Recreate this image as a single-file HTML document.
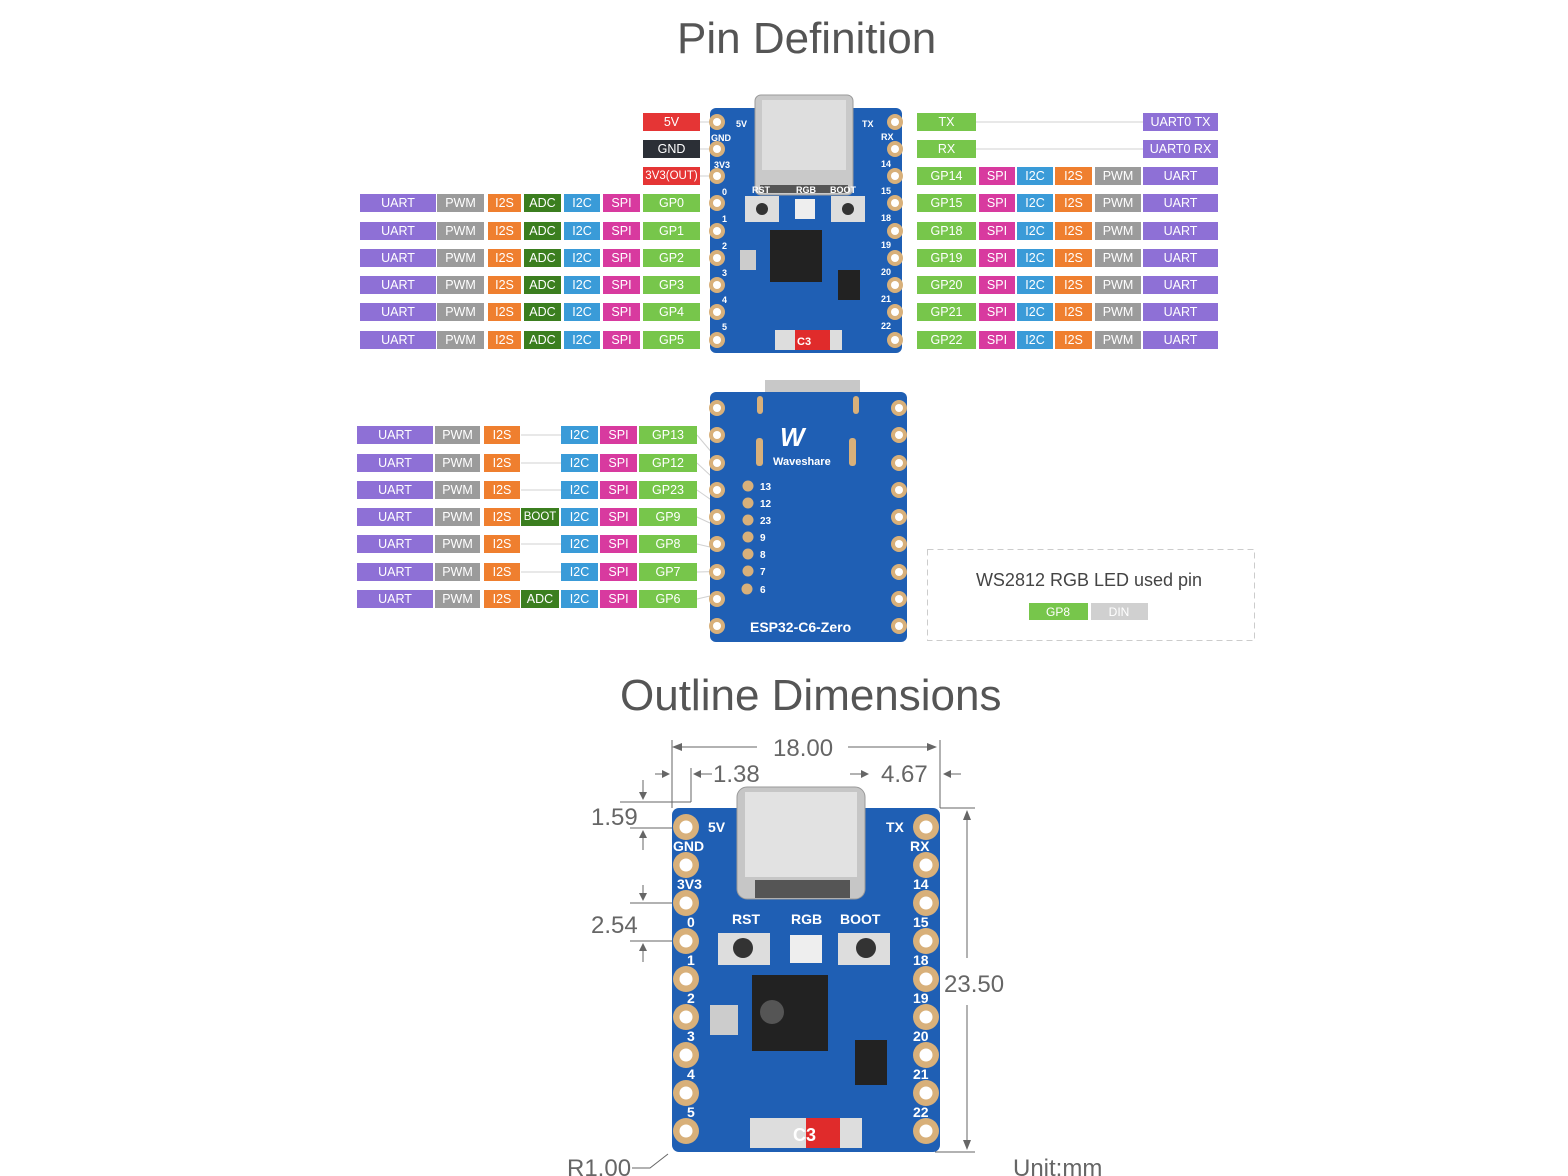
<!DOCTYPE html>
<html><head><meta charset="utf-8"><style>
html,body{margin:0;padding:0;background:#fff}
body{width:1568px;height:1176px;position:relative;overflow:hidden;font-family:"Liberation Sans",sans-serif}
svg{position:absolute;left:0;top:0}
.r{position:absolute;left:0;width:1568px;height:18px}
.r span{position:absolute;top:0;height:18px;line-height:18px;color:#fff;text-align:center;font-size:12.5px}
.u{background:#8e70d6}.p{background:#9b9b9b}.s{background:#ef7f2f}.a{background:#3b7e1f}.c{background:#3a9bd8}.i{background:#d83a9f}.g{background:#77c64b}
.L1{left:360px;width:76px}.L2{left:437px;width:47px}.L3{left:488px;width:33px}.L4{left:524px;width:37px}.L5{left:564px;width:36px}.L6{left:603px;width:37px}.L7{left:643px;width:57px}
.R1{left:917px;width:59px}.R2{left:979px;width:36px}.R3{left:1017px;width:36px}.R4{left:1055px;width:37px}.R5{left:1095px;width:46px}.R6{left:1143px;width:75px}
.B1{left:357px;width:76px}.B2{left:435px;width:45px}.B3{left:484px;width:36px}.B4{left:521px;width:38px}.B5{left:561px;width:37px}.B6{left:600px;width:37px}.B7{left:639px;width:58px}
.t{position:absolute;color:#555;font-size:44px;white-space:nowrap}
</style></head><body>
<svg width="1568" height="1176" viewBox="0 0 1568 1176">
<g stroke="#d0d0d0" stroke-width="1">
<line x1="976" y1="122" x2="1143" y2="122"/><line x1="976" y1="149" x2="1143" y2="149"/>
<line x1="700" y1="122" x2="712" y2="122"/><line x1="700" y1="149" x2="712" y2="149"/><line x1="700" y1="176" x2="712" y2="176"/>
<line x1="697" y1="435" x2="740" y2="486"/><line x1="697" y1="463" x2="740" y2="503"/><line x1="697" y1="490" x2="740" y2="520"/><line x1="697" y1="517" x2="740" y2="537"/><line x1="697" y1="544" x2="740" y2="554"/><line x1="697" y1="572" x2="740" y2="571"/><line x1="697" y1="599" x2="740" y2="589"/>
<line x1="521" y1="435" x2="561" y2="435"/><line x1="521" y1="463" x2="561" y2="463"/><line x1="521" y1="490" x2="561" y2="490"/><line x1="521" y1="544" x2="561" y2="544"/><line x1="521" y1="572" x2="561" y2="572"/>
</g>
<!-- Board 1 -->
<rect x="710" y="108" width="192" height="245" rx="6" fill="#1f5fb4"/>
<rect x="755" y="95" width="98" height="100" rx="6" fill="#c9c9c9" stroke="#9a9a9a"/>
<rect x="762" y="100" width="84" height="70" fill="#dedede"/>
<rect x="760" y="185" width="88" height="8" fill="#555"/>
<g fill="#d8b07a"><circle cx="717" cy="122" r="8"/><circle cx="717" cy="149" r="8"/><circle cx="717" cy="176" r="8"/><circle cx="717" cy="203" r="8"/><circle cx="717" cy="231" r="8"/><circle cx="717" cy="258" r="8"/><circle cx="717" cy="285" r="8"/><circle cx="717" cy="312" r="8"/><circle cx="717" cy="340" r="8"/>
<circle cx="895" cy="122" r="8"/><circle cx="895" cy="149" r="8"/><circle cx="895" cy="176" r="8"/><circle cx="895" cy="203" r="8"/><circle cx="895" cy="231" r="8"/><circle cx="895" cy="258" r="8"/><circle cx="895" cy="285" r="8"/><circle cx="895" cy="312" r="8"/><circle cx="895" cy="340" r="8"/></g>
<g fill="#fff"><circle cx="717" cy="122" r="4"/><circle cx="717" cy="149" r="4"/><circle cx="717" cy="176" r="4"/><circle cx="717" cy="203" r="4"/><circle cx="717" cy="231" r="4"/><circle cx="717" cy="258" r="4"/><circle cx="717" cy="285" r="4"/><circle cx="717" cy="312" r="4"/><circle cx="717" cy="340" r="4"/>
<circle cx="895" cy="122" r="4"/><circle cx="895" cy="149" r="4"/><circle cx="895" cy="176" r="4"/><circle cx="895" cy="203" r="4"/><circle cx="895" cy="231" r="4"/><circle cx="895" cy="258" r="4"/><circle cx="895" cy="285" r="4"/><circle cx="895" cy="312" r="4"/><circle cx="895" cy="340" r="4"/></g>
<rect x="745" y="196" width="34" height="26" fill="#ddd"/><circle cx="762" cy="209" r="6" fill="#333"/>
<rect x="831" y="196" width="34" height="26" fill="#ddd"/><circle cx="848" cy="209" r="6" fill="#333"/>
<rect x="795" y="199" width="20" height="20" fill="#eee"/>
<rect x="770" y="230" width="52" height="52" fill="#222"/>
<rect x="740" y="250" width="16" height="20" fill="#ccc"/>
<rect x="838" y="270" width="22" height="30" fill="#222"/>
<rect x="795" y="330" width="35" height="20" fill="#e02b2b"/><rect x="775" y="330" width="20" height="20" fill="#ddd"/><rect x="830" y="330" width="12" height="20" fill="#ddd"/>
<g fill="#fff" font-size="9" font-weight="bold"><text x="736" y="127">5V</text><text x="711" y="141">GND</text><text x="714" y="168">3V3</text><text x="722" y="195">0</text><text x="722" y="222">1</text><text x="722" y="249">2</text><text x="722" y="276">3</text><text x="722" y="303">4</text><text x="722" y="330">5</text>
<text x="862" y="127">TX</text><text x="881" y="140">RX</text><text x="881" y="167">14</text><text x="881" y="194">15</text><text x="881" y="221">18</text><text x="881" y="248">19</text><text x="881" y="275">20</text><text x="881" y="302">21</text><text x="881" y="329">22</text>
<text x="752" y="193">RST</text><text x="796" y="193">RGB</text><text x="830" y="193">BOOT</text><text x="797" y="345" font-size="11">C3</text></g>
<!-- Board 2 -->
<rect x="765" y="380" width="95" height="12" fill="#c8c8c8"/>
<rect x="710" y="392" width="197" height="250" rx="6" fill="#1f5fb4"/>
<g fill="#d8b07a"><circle cx="717" cy="408" r="8"/><circle cx="717" cy="435" r="8"/><circle cx="717" cy="463" r="8"/><circle cx="717" cy="490" r="8"/><circle cx="717" cy="517" r="8"/><circle cx="717" cy="544" r="8"/><circle cx="717" cy="572" r="8"/><circle cx="717" cy="599" r="8"/><circle cx="717" cy="626" r="8"/>
<circle cx="899" cy="408" r="8"/><circle cx="899" cy="435" r="8"/><circle cx="899" cy="463" r="8"/><circle cx="899" cy="490" r="8"/><circle cx="899" cy="517" r="8"/><circle cx="899" cy="544" r="8"/><circle cx="899" cy="572" r="8"/><circle cx="899" cy="599" r="8"/><circle cx="899" cy="626" r="8"/>
<circle cx="748" cy="486" r="5.5"/><circle cx="748" cy="503" r="5.5"/><circle cx="748" cy="520" r="5.5"/><circle cx="748" cy="537" r="5.5"/><circle cx="748" cy="554" r="5.5"/><circle cx="748" cy="571" r="5.5"/><circle cx="747" cy="589" r="5.5"/>
<rect x="756" y="438" width="7" height="28" rx="3"/><rect x="849" y="438" width="7" height="28" rx="3"/><rect x="757" y="396" width="6" height="18" rx="3"/><rect x="853" y="396" width="6" height="18" rx="3"/></g>
<g fill="#fff"><circle cx="717" cy="408" r="4"/><circle cx="717" cy="435" r="4"/><circle cx="717" cy="463" r="4"/><circle cx="717" cy="490" r="4"/><circle cx="717" cy="517" r="4"/><circle cx="717" cy="544" r="4"/><circle cx="717" cy="572" r="4"/><circle cx="717" cy="599" r="4"/><circle cx="717" cy="626" r="4"/>
<circle cx="899" cy="408" r="4"/><circle cx="899" cy="435" r="4"/><circle cx="899" cy="463" r="4"/><circle cx="899" cy="490" r="4"/><circle cx="899" cy="517" r="4"/><circle cx="899" cy="544" r="4"/><circle cx="899" cy="572" r="4"/><circle cx="899" cy="599" r="4"/><circle cx="899" cy="626" r="4"/></g>
<g fill="#fff" font-weight="bold"><text x="780" y="446" font-size="26" font-style="italic">W</text><text x="773" y="465" font-size="11">Waveshare</text>
<g font-size="10"><text x="760" y="490">13</text><text x="760" y="507">12</text><text x="760" y="524">23</text><text x="760" y="541">9</text><text x="760" y="558">8</text><text x="760" y="575">7</text><text x="760" y="593">6</text></g>
<text x="750" y="632" font-size="14">ESP32-C6-Zero</text></g>
<!-- dashed box -->
<rect x="927.5" y="549.5" width="327" height="91" fill="none" stroke="#ccc" stroke-dasharray="6,4"/>
<text x="1089" y="586" font-size="18" fill="#444" text-anchor="middle">WS2812 RGB LED used pin</text>
<rect x="1029" y="603" width="59" height="17" fill="#77c64b"/><rect x="1091" y="603" width="57" height="17" fill="#d0d0d0"/>
<text x="1058" y="616" font-size="12" fill="#fff" text-anchor="middle">GP8</text><text x="1119" y="616" font-size="12" fill="#fff" text-anchor="middle">DIN</text>
<!-- Board 3 -->
<rect x="672" y="808" width="268" height="344" rx="7" fill="#1f5fb4"/>
<rect x="737" y="787" width="128" height="112" rx="10" fill="#c6c6c6" stroke="#999"/>
<rect x="745" y="792" width="112" height="85" fill="#e2e2e2"/>
<rect x="755" y="880" width="95" height="18" fill="#555"/>
<g fill="#d8b07a"><circle cx="686" cy="827" r="13"/><circle cx="686" cy="865" r="13"/><circle cx="686" cy="903" r="13"/><circle cx="686" cy="941" r="13"/><circle cx="686" cy="979" r="13"/><circle cx="686" cy="1017" r="13"/><circle cx="686" cy="1055" r="13"/><circle cx="686" cy="1093" r="13"/><circle cx="686" cy="1131" r="13"/>
<circle cx="926" cy="827" r="13"/><circle cx="926" cy="865" r="13"/><circle cx="926" cy="903" r="13"/><circle cx="926" cy="941" r="13"/><circle cx="926" cy="979" r="13"/><circle cx="926" cy="1017" r="13"/><circle cx="926" cy="1055" r="13"/><circle cx="926" cy="1093" r="13"/><circle cx="926" cy="1131" r="13"/></g>
<g fill="#fff"><circle cx="686" cy="827" r="6.5"/><circle cx="686" cy="865" r="6.5"/><circle cx="686" cy="903" r="6.5"/><circle cx="686" cy="941" r="6.5"/><circle cx="686" cy="979" r="6.5"/><circle cx="686" cy="1017" r="6.5"/><circle cx="686" cy="1055" r="6.5"/><circle cx="686" cy="1093" r="6.5"/><circle cx="686" cy="1131" r="6.5"/>
<circle cx="926" cy="827" r="6.5"/><circle cx="926" cy="865" r="6.5"/><circle cx="926" cy="903" r="6.5"/><circle cx="926" cy="941" r="6.5"/><circle cx="926" cy="979" r="6.5"/><circle cx="926" cy="1017" r="6.5"/><circle cx="926" cy="1055" r="6.5"/><circle cx="926" cy="1093" r="6.5"/><circle cx="926" cy="1131" r="6.5"/></g>
<rect x="718" y="933" width="52" height="32" fill="#ddd"/><circle cx="743" cy="948" r="10" fill="#333"/>
<rect x="838" y="933" width="52" height="32" fill="#ddd"/><circle cx="866" cy="948" r="10" fill="#333"/>
<rect x="790" y="935" width="32" height="28" fill="#eee"/>
<rect x="752" y="975" width="76" height="76" fill="#222"/><circle cx="772" cy="1012" r="12" fill="#555"/>
<rect x="710" y="1005" width="28" height="30" fill="#ccc"/>
<rect x="855" y="1040" width="32" height="45" fill="#222"/>
<rect x="806" y="1118" width="50" height="30" fill="#e02b2b"/><rect x="750" y="1118" width="56" height="30" fill="#ddd"/><rect x="840" y="1118" width="22" height="30" fill="#ddd"/>
<g fill="#fff" font-size="14" font-weight="bold"><text x="708" y="832">5V</text><text x="673" y="851">GND</text><text x="677" y="889">3V3</text><text x="687" y="927">0</text><text x="687" y="965">1</text><text x="687" y="1003">2</text><text x="687" y="1041">3</text><text x="687" y="1079">4</text><text x="687" y="1117">5</text>
<text x="886" y="832">TX</text><text x="910" y="851">RX</text><text x="913" y="889">14</text><text x="913" y="927">15</text><text x="913" y="965">18</text><text x="913" y="1003">19</text><text x="913" y="1041">20</text><text x="913" y="1079">21</text><text x="913" y="1117">22</text>
<text x="732" y="924">RST</text><text x="791" y="924">RGB</text><text x="840" y="924">BOOT</text><text x="793" y="1141" font-size="18">C3</text></g>
<!-- dimensions -->
<g stroke="#666" stroke-width="1" fill="none">
<line x1="672" y1="740" x2="672" y2="808"/><line x1="940" y1="740" x2="940" y2="808"/><line x1="691" y1="768" x2="691" y2="802"/>
<line x1="674" y1="747" x2="757" y2="747"/><line x1="848" y1="747" x2="935" y2="747"/>
<line x1="655" y1="774" x2="668" y2="774"/><line x1="695" y1="774" x2="712" y2="774"/><line x1="850" y1="774" x2="867" y2="774"/><line x1="946" y1="774" x2="961" y2="774"/>
<line x1="620" y1="802" x2="691" y2="802"/><line x1="630" y1="828" x2="672" y2="828"/><line x1="630" y1="903" x2="672" y2="903"/><line x1="630" y1="941" x2="672" y2="941"/>
<line x1="643" y1="780" x2="643" y2="798"/><line x1="643" y1="832" x2="643" y2="850"/><line x1="643" y1="885" x2="643" y2="899"/><line x1="643" y1="945" x2="643" y2="962"/>
<line x1="940" y1="808" x2="975" y2="808"/><line x1="935" y1="1152" x2="975" y2="1152"/><line x1="967" y1="812" x2="967" y2="958"/><line x1="967" y1="1005" x2="967" y2="1148"/>
<polyline points="632,1168 650,1168 668,1154"/></g>
<g fill="#666"><path d="M672,747 l10,-4 v8z"/><path d="M937,747 l-10,-4 v8z"/><path d="M670,774 l-8,-4 v8z"/><path d="M693,774 l8,-4 v8z"/><path d="M869,774 l-8,-4 v8z"/><path d="M943,774 l8,-4 v8z"/>
<path d="M643,800 l-4,-8 h8z"/><path d="M643,830 l-4,8 h8z"/><path d="M643,901 l-4,-8 h8z"/><path d="M643,943 l-4,8 h8z"/><path d="M967,810 l-4,10 h8z"/><path d="M967,1150 l-4,-10 h8z"/></g>
<g fill="#666" font-size="24"><text x="773" y="756">18.00</text><text x="713" y="782">1.38</text><text x="881" y="782">4.67</text><text x="591" y="825">1.59</text><text x="591" y="933">2.54</text><text x="944" y="992">23.50</text><text x="567" y="1176">R1.00</text><text x="1013" y="1176">Unit:mm</text></g>
</svg>
<div class="t" style="left:677px;top:14px">Pin Definition</div>
<div class="t" style="left:620px;top:671px">Outline Dimensions</div>

<div class="r" style="top:113px"><span class="L7" style="background:#e53535">5V</span><span class="R1 g">TX</span><span class="R6 u">UART0 TX</span></div>
<div class="r" style="top:140px"><span class="L7" style="background:#2b2f36">GND</span><span class="R1 g">RX</span><span class="R6 u">UART0 RX</span></div>
<div class="r" style="top:167px"><span class="L7" style="background:#e53535;font-size:11.5px">3V3(OUT)</span><span class="R1 g">GP14</span><span class="R2 i">SPI</span><span class="R3 c">I2C</span><span class="R4 s">I2S</span><span class="R5 p">PWM</span><span class="R6 u">UART</span></div>
<div class="r" style="top:194px"><span class="L1 u">UART</span><span class="L2 p">PWM</span><span class="L3 s">I2S</span><span class="L4 a">ADC</span><span class="L5 c">I2C</span><span class="L6 i">SPI</span><span class="L7 g">GP0</span><span class="R1 g">GP15</span><span class="R2 i">SPI</span><span class="R3 c">I2C</span><span class="R4 s">I2S</span><span class="R5 p">PWM</span><span class="R6 u">UART</span></div>
<div class="r" style="top:222px"><span class="L1 u">UART</span><span class="L2 p">PWM</span><span class="L3 s">I2S</span><span class="L4 a">ADC</span><span class="L5 c">I2C</span><span class="L6 i">SPI</span><span class="L7 g">GP1</span><span class="R1 g">GP18</span><span class="R2 i">SPI</span><span class="R3 c">I2C</span><span class="R4 s">I2S</span><span class="R5 p">PWM</span><span class="R6 u">UART</span></div>
<div class="r" style="top:249px"><span class="L1 u">UART</span><span class="L2 p">PWM</span><span class="L3 s">I2S</span><span class="L4 a">ADC</span><span class="L5 c">I2C</span><span class="L6 i">SPI</span><span class="L7 g">GP2</span><span class="R1 g">GP19</span><span class="R2 i">SPI</span><span class="R3 c">I2C</span><span class="R4 s">I2S</span><span class="R5 p">PWM</span><span class="R6 u">UART</span></div>
<div class="r" style="top:276px"><span class="L1 u">UART</span><span class="L2 p">PWM</span><span class="L3 s">I2S</span><span class="L4 a">ADC</span><span class="L5 c">I2C</span><span class="L6 i">SPI</span><span class="L7 g">GP3</span><span class="R1 g">GP20</span><span class="R2 i">SPI</span><span class="R3 c">I2C</span><span class="R4 s">I2S</span><span class="R5 p">PWM</span><span class="R6 u">UART</span></div>
<div class="r" style="top:303px"><span class="L1 u">UART</span><span class="L2 p">PWM</span><span class="L3 s">I2S</span><span class="L4 a">ADC</span><span class="L5 c">I2C</span><span class="L6 i">SPI</span><span class="L7 g">GP4</span><span class="R1 g">GP21</span><span class="R2 i">SPI</span><span class="R3 c">I2C</span><span class="R4 s">I2S</span><span class="R5 p">PWM</span><span class="R6 u">UART</span></div>
<div class="r" style="top:331px"><span class="L1 u">UART</span><span class="L2 p">PWM</span><span class="L3 s">I2S</span><span class="L4 a">ADC</span><span class="L5 c">I2C</span><span class="L6 i">SPI</span><span class="L7 g">GP5</span><span class="R1 g">GP22</span><span class="R2 i">SPI</span><span class="R3 c">I2C</span><span class="R4 s">I2S</span><span class="R5 p">PWM</span><span class="R6 u">UART</span></div>

<div class="r" style="top:426px"><span class="B1 u">UART</span><span class="B2 p">PWM</span><span class="B3 s">I2S</span><span class="B5 c">I2C</span><span class="B6 i">SPI</span><span class="B7 g">GP13</span></div>
<div class="r" style="top:454px"><span class="B1 u">UART</span><span class="B2 p">PWM</span><span class="B3 s">I2S</span><span class="B5 c">I2C</span><span class="B6 i">SPI</span><span class="B7 g">GP12</span></div>
<div class="r" style="top:481px"><span class="B1 u">UART</span><span class="B2 p">PWM</span><span class="B3 s">I2S</span><span class="B5 c">I2C</span><span class="B6 i">SPI</span><span class="B7 g">GP23</span></div>
<div class="r" style="top:508px"><span class="B1 u">UART</span><span class="B2 p">PWM</span><span class="B3 s">I2S</span><span class="B4 a" style="font-size:11.5px">BOOT</span><span class="B5 c">I2C</span><span class="B6 i">SPI</span><span class="B7 g">GP9</span></div>
<div class="r" style="top:535px"><span class="B1 u">UART</span><span class="B2 p">PWM</span><span class="B3 s">I2S</span><span class="B5 c">I2C</span><span class="B6 i">SPI</span><span class="B7 g">GP8</span></div>
<div class="r" style="top:563px"><span class="B1 u">UART</span><span class="B2 p">PWM</span><span class="B3 s">I2S</span><span class="B5 c">I2C</span><span class="B6 i">SPI</span><span class="B7 g">GP7</span></div>
<div class="r" style="top:590px"><span class="B1 u">UART</span><span class="B2 p">PWM</span><span class="B3 s">I2S</span><span class="B4 a">ADC</span><span class="B5 c">I2C</span><span class="B6 i">SPI</span><span class="B7 g">GP6</span></div>
</body></html>
